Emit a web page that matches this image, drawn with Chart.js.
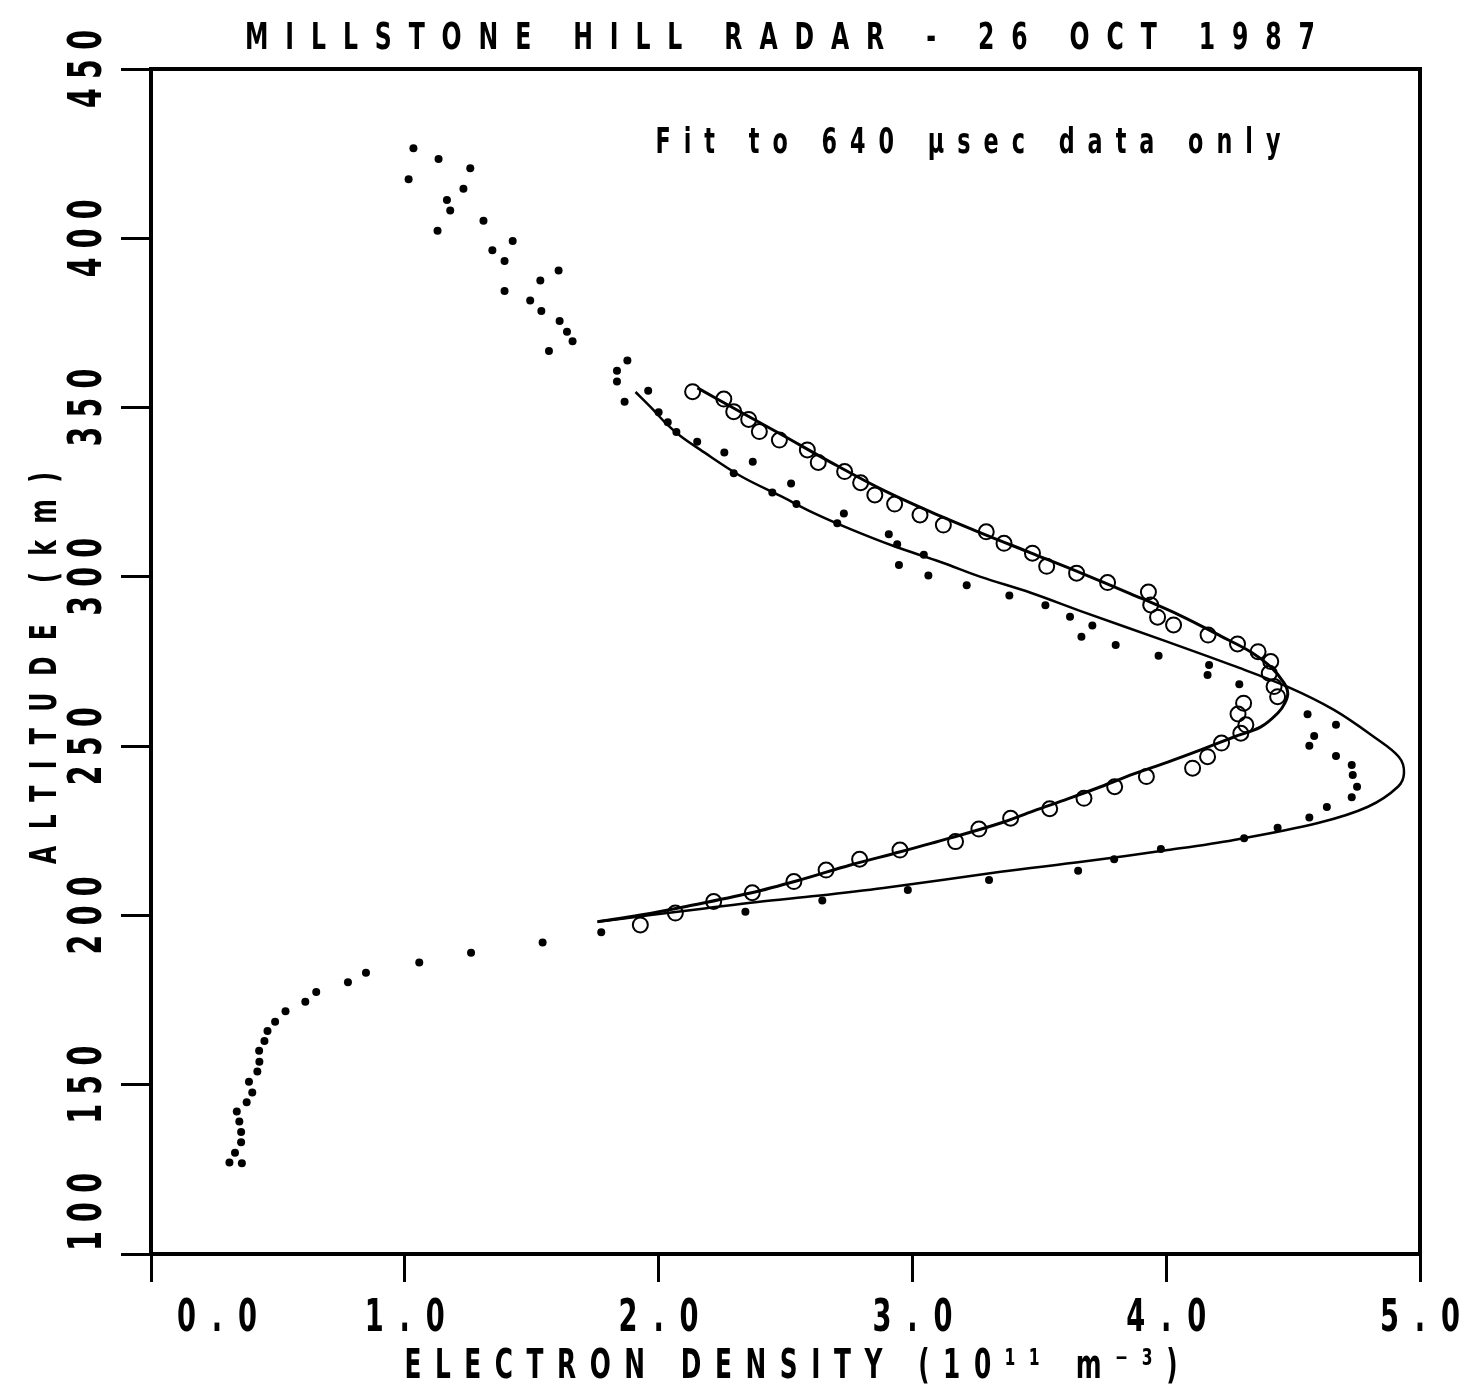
<!DOCTYPE html>
<html>
<head>
<meta charset="utf-8">
<script src="https://cdn.jsdelivr.net/npm/chart.js@4.4.1/dist/chart.umd.min.js"></script>
<style>
  body { margin: 0; background: #fff; }
  canvas { display: block; }
</style>
</head>
<body>
<canvas id="profileChart" width="1472" height="1386"></canvas>
<script>
// Millstone Hill radar profile, 26 Oct 1987
var chartTitle = 'MILLSTONE HILL RADAR - 26 OCT 1987';
var xAxisTitle = 'ELECTRON DENSITY (10\u00B9\u00B9 m\u207B\u00B3)';
var yAxisTitle = 'ALTITUDE (km)';
var noteText = 'Fit to 640 \u03BCsec data only';

var xTicks = [0, 1, 2, 3, 4, 5];
var yTicks = [100, 150, 200, 250, 300, 350, 400, 450];

// small dots (measured density vs altitude)
var dotDensity = [
    1.034, 1.133, 1.258, 1.015, 1.231, 1.166, 1.179, 1.310, 1.129, 1.425,
    1.345, 1.393, 1.606, 1.534, 1.393, 1.494, 1.538, 1.610, 1.639, 1.661,
    1.568, 1.877, 1.836, 1.836, 1.959, 1.866,
    2.000, 2.036, 2.070, 2.152, 2.259, 2.371, 2.296, 2.522, 2.448, 2.543,
    2.730, 2.704, 2.907, 2.940, 3.045, 2.947, 3.063, 3.214, 3.382, 3.524,
    3.621, 3.709, 3.666, 3.801, 3.970, 4.169, 4.163, 4.288,
    4.557, 4.669, 4.583, 4.564, 4.669, 4.731, 4.735, 4.752, 4.731, 4.633,
    4.564, 4.439, 4.307, 3.979, 3.795, 3.653, 3.302, 2.982, 2.645, 2.342,
    1.774, 1.543, 1.261, 1.057, 0.847, 0.776, 0.651, 0.608, 0.530, 0.489,
    0.459, 0.447, 0.426, 0.427, 0.419, 0.386, 0.399, 0.377, 0.338, 0.348,
    0.355, 0.355, 0.331, 0.309, 0.358
];
var dotAltitude = [
    426.6, 423.4, 420.7, 417.4, 414.6, 411.3, 408.2, 405.2, 402.2, 399.2,
    396.5, 393.3, 390.5, 387.5, 384.4, 381.6, 378.5, 375.6, 372.4, 369.6,
    366.7, 363.9, 360.9, 357.7, 355.0, 351.7,
    348.6, 345.7, 342.8, 339.9, 336.7, 334.0, 330.6, 327.6, 324.9, 321.5,
    318.7, 315.8, 312.6, 309.6, 306.5, 303.5, 300.4, 297.5, 294.5, 291.6,
    288.2, 285.6, 282.3, 279.9, 276.7, 274.0, 271.0, 268.3,
    259.4, 256.3, 253.0, 250.1, 247.1, 244.4, 241.5, 238.0, 234.9, 232.0,
    228.9, 225.9, 222.8, 219.6, 216.6, 213.2, 210.5, 207.5, 204.4, 201.1,
    195.0, 192.0, 189.0, 186.1, 183.1, 180.3, 177.4, 174.5, 171.7, 168.6,
    165.9, 162.9, 160.0, 156.8, 153.9, 150.9, 147.7, 144.8, 142.1, 139.1,
    136.0, 133.0, 129.9, 127.0, 126.8
];

// open circles (640 usec data)
var circleDensity = [
    2.134, 2.257, 2.296, 2.355, 2.397, 2.476, 2.586, 2.629, 2.733, 2.796,
    2.852, 2.930, 3.030, 3.122, 3.291, 3.361, 3.473, 3.529, 3.647, 3.769,
    3.930, 3.939, 3.966, 4.029, 4.165, 4.281, 4.362, 4.412, 4.406, 4.425,
    4.439, 4.305, 4.283, 4.314, 4.294, 4.218, 4.163, 4.104, 3.922, 3.797,
    3.676, 3.541, 3.387, 3.262, 3.170, 2.951, 2.792, 2.660, 2.533, 2.369,
    2.217, 2.066, 1.928
];
var circleAltitude = [
    354.7, 352.5, 348.8, 346.5, 342.9, 340.4, 337.5, 333.8, 331.1, 327.8,
    324.2, 321.5, 318.3, 315.3, 313.3, 309.9, 307.0, 303.1, 301.1, 298.3,
    295.5, 291.7, 288.1, 285.8, 282.8, 280.2, 277.9, 275.0, 271.5, 267.6,
    264.6, 262.7, 259.5, 256.3, 253.8, 250.9, 246.9, 243.5, 241.0, 238.0,
    234.6, 231.5, 228.7, 225.5, 221.8, 219.3, 216.6, 213.4, 210.0, 206.7,
    204.1, 200.7, 197.2
];

// fitted profile through the circles
var fitADensity = [
    2.153, 2.323, 2.480, 2.677, 2.875, 3.072, 3.269, 3.466, 3.663, 3.860,
    4.058, 4.215, 4.334, 4.412, 4.464, 4.479, 4.468, 4.440, 4.373, 4.267,
    4.136, 4.006, 3.872, 3.742, 3.612, 3.478, 3.348, 3.151, 2.953, 2.756,
    2.559, 2.362, 2.098, 1.928, 1.759
];
var fitAAltitude = [
    355.8, 348.7, 342.2, 333.9, 326.0, 319.2, 313.0, 307.1, 301.2, 295.0,
    288.5, 282.5, 277.8, 273.4, 268.7, 265.7, 262.8, 259.8, 255.7, 252.7,
    248.9, 245.3, 241.8, 238.0, 234.4, 230.9, 227.3, 222.9, 218.8, 214.9,
    210.5, 206.6, 202.5, 200.1, 198.1
];

// fitted profile through the dots
var fitBDensity = [
    1.909, 1.968, 2.027, 2.086, 2.165, 2.323, 2.480, 2.610, 2.756, 2.926,
    3.111, 3.269, 3.466, 3.663, 4.006, 4.267, 4.479, 4.661, 4.819, 4.917,
    4.937, 4.913, 4.795, 4.598, 4.267, 4.006, 3.675, 3.348, 2.886, 2.626,
    2.390, 2.165, 1.968, 1.759
];
var fitBAltitude = [
    354.6, 350.2, 345.5, 341.6, 337.5, 329.8, 323.9, 318.9, 314.1, 309.1,
    304.4, 300.0, 295.3, 289.9, 280.8, 273.7, 267.5, 260.7, 252.7, 246.8,
    242.1, 238.0, 232.1, 227.3, 222.3, 219.3, 215.9, 212.9, 208.1, 205.8,
    204.0, 201.9, 200.1, 198.1
];

function toPoints(xs, ys) {
    return xs.map(function(x, i) {
        return { x: x, y: ys[i] };
    });
}

var FONT = "'DejaVu Sans', 'Liberation Sans', sans-serif";

// draw narrow spaced-out text, centred on (x, y), spread to a given width
function drawSpaced(ctx, text, x, y, width, angle, size, sx) {
    ctx.save();
    ctx.translate(x, y);
    ctx.rotate(angle);
    ctx.scale(sx, 1);
    ctx.font = 'bold ' + size + 'px ' + FONT;
    ctx.letterSpacing = '0px';
    var w = ctx.measureText(text).width;
    var n = Array.from(text).length;
    var sp = n > 1 ? (width / sx - w) / (n - 1) : 0;
    ctx.letterSpacing = sp + 'px';
    ctx.fillStyle = '#000';
    ctx.textAlign = 'left';
    ctx.textBaseline = 'alphabetic';
    ctx.fillText(text, -width / (2 * sx), size * 0.365);
    ctx.restore();
}

var paperText = {
    id: 'paperText',
    afterDraw: function(chart) {
        var ctx = chart.ctx;
        var area = chart.chartArea;
        var xs = chart.scales.x;
        var ys = chart.scales.y;

        // frame
        ctx.save();
        ctx.strokeStyle = '#000';
        ctx.lineWidth = 4;
        ctx.strokeRect(area.left, area.top, area.right - area.left, area.bottom - area.top);
        ctx.restore();

        drawSpaced(ctx, chartTitle, 780, 35, 1070, 0, 38, 0.62);
        drawSpaced(ctx, noteText, 968, 140, 625, 0, 36, 0.62);
        drawSpaced(ctx, xAxisTitle, 791, 1363, 773, 0, 40, 0.62);
        drawSpaced(ctx, yAxisTitle, 42, 668, 392, -Math.PI / 2, 38, 0.62);

        xTicks.forEach(function(v) {
            var p = Math.max(xs.getPixelForValue(v), area.left + 66);
            drawSpaced(ctx, v.toFixed(1), p, 1315, 80, 0, 44, 0.62);
        });
        yTicks.forEach(function(v) {
            var p = Math.min(ys.getPixelForValue(v), area.bottom - 42);
            drawSpaced(ctx, String(v), 84, p, 78, -Math.PI / 2, 46, 0.62);
        });
    }
};

var ctx = document.getElementById('profileChart').getContext('2d');
var profileChart = new Chart(ctx, {
    type: 'scatter',
    data: {
        datasets: [{
            label: 'Fit (circles)',
            data: toPoints(fitADensity, fitAAltitude),
            showLine: true,
            tension: 0.35,
            borderColor: '#000',
            borderWidth: 3,
            pointRadius: 0
        }, {
            label: 'Fit (dots)',
            data: toPoints(fitBDensity, fitBAltitude),
            showLine: true,
            tension: 0.35,
            borderColor: '#000',
            borderWidth: 2.5,
            pointRadius: 0
        }, {
            label: '640 usec',
            data: toPoints(circleDensity, circleAltitude),
            pointRadius: 7.5,
            pointBorderWidth: 2,
            pointBorderColor: '#000',
            pointBackgroundColor: 'rgba(0,0,0,0)'
        }, {
            label: 'Data',
            data: toPoints(dotDensity, dotAltitude),
            pointRadius: 4,
            pointBorderWidth: 0,
            pointBackgroundColor: '#000'
        }]
    },
    options: {
        responsive: false,
        devicePixelRatio: 1,
        animation: false,
        layout: {
            padding: { left: 121, top: 69, right: 52, bottom: 104 }
        },
        plugins: {
            legend: { display: false },
            tooltip: { enabled: false }
        },
        scales: {
            x: {
                type: 'linear',
                min: 0,
                max: 5,
                ticks: { stepSize: 1, display: false },
                grid: {
                    drawOnChartArea: false,
                    drawTicks: true,
                    tickLength: 28,
                    tickWidth: 3,
                    tickColor: '#000'
                },
                border: { color: '#000', width: 4 }
            },
            y: {
                type: 'linear',
                min: 100,
                max: 450,
                ticks: { stepSize: 50, display: false },
                grid: {
                    drawOnChartArea: false,
                    drawTicks: true,
                    tickLength: 30,
                    tickWidth: 3,
                    tickColor: '#000'
                },
                border: { color: '#000', width: 4 }
            }
        }
    },
    plugins: [paperText]
});
</script>
</body>
</html>
